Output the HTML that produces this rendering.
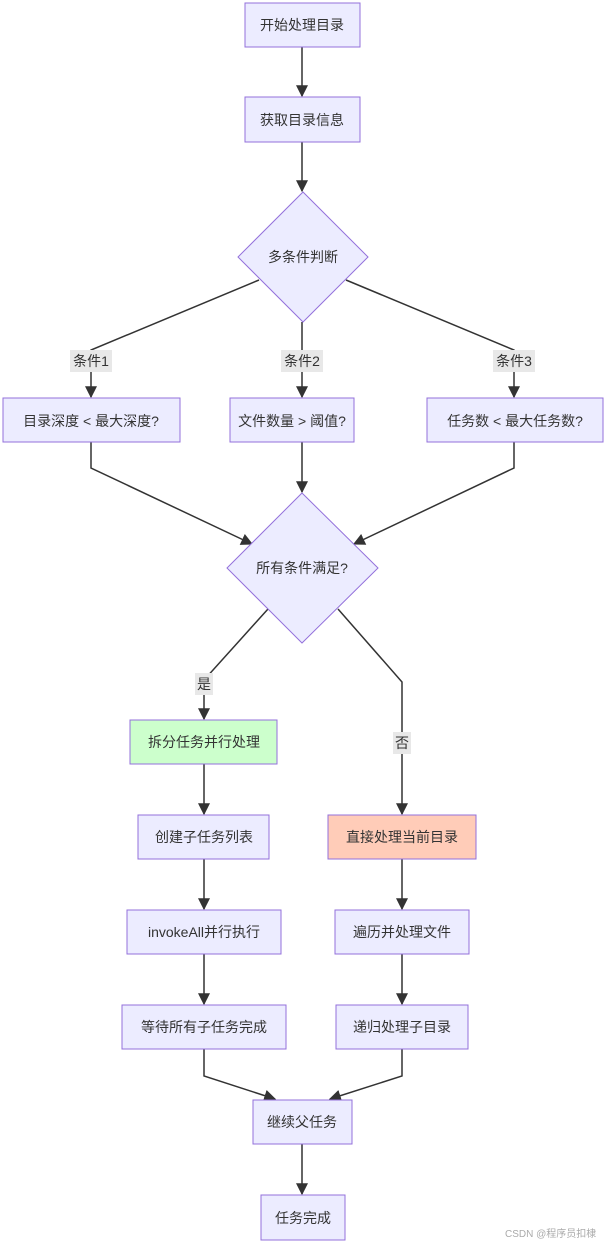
<!DOCTYPE html>
<html><head><meta charset="utf-8"><style>
html,body{margin:0;padding:0;background:#fff;}
svg text{font-family:"Liberation Sans","Noto Sans CJK SC",sans-serif;font-size:14px;fill:#333;}
</style></head><body>
<svg width="611" height="1244" viewBox="0 0 611 1244" xmlns="http://www.w3.org/2000/svg">
<defs><marker id="a" viewBox="0 0 10 10" refX="9" refY="5" markerWidth="8" markerHeight="8" orient="auto"><path d="M0,0L10,5L0,10z" fill="#333"/></marker></defs>
<g fill="none" stroke="#333" stroke-width="1.5">
<line x1="302" y1="47" x2="302" y2="96" marker-end="url(#a)"/>
<line x1="302" y1="142" x2="302" y2="191" marker-end="url(#a)"/>
<polyline points="259,280 91,350 91,397" marker-end="url(#a)"/>
<line x1="302" y1="322" x2="302" y2="397" marker-end="url(#a)"/>
<polyline points="346,280 514,350 514,397" marker-end="url(#a)"/>
<polyline points="91,442 91,468 252,544" marker-end="url(#a)"/>
<line x1="302" y1="442" x2="302" y2="492" marker-end="url(#a)"/>
<polyline points="514,442 514,468 354,544" marker-end="url(#a)"/>
<polyline points="268,609 204,680 204,719" marker-end="url(#a)"/>
<polyline points="338,609 402,682 402,814" marker-end="url(#a)"/>
<line x1="204" y1="764" x2="204" y2="814" marker-end="url(#a)"/>
<line x1="204" y1="859" x2="204" y2="909" marker-end="url(#a)"/>
<line x1="204" y1="954" x2="204" y2="1004" marker-end="url(#a)"/>
<line x1="402" y1="859" x2="402" y2="909" marker-end="url(#a)"/>
<line x1="402" y1="954" x2="402" y2="1004" marker-end="url(#a)"/>
<polyline points="204,1049 204,1076 275,1099" marker-end="url(#a)"/>
<polyline points="402,1049 402,1076 330,1099" marker-end="url(#a)"/>
<line x1="302" y1="1144" x2="302" y2="1194" marker-end="url(#a)"/>
</g>
<g fill="#e8e8e8">
<rect x="70" y="350" width="42" height="22"/>
<rect x="281" y="350" width="42" height="22"/>
<rect x="493" y="350" width="42" height="22"/>
<rect x="195" y="673" width="18" height="22"/>
<rect x="393" y="732" width="18" height="22"/>
</g>
<g stroke="#9370db" stroke-width="1" fill="#ececff">
<rect x="245" y="3" width="115" height="44"/>
<rect x="245" y="97" width="115" height="45"/>
<polygon points="303,192 368,257 303,322 238,257"/>
<rect x="3" y="398" width="177" height="44"/>
<rect x="230" y="398" width="124" height="44"/>
<rect x="427" y="398" width="176" height="44"/>
<polygon points="302,493 378,568 302,643 227,568"/>
<rect x="130" y="720" width="147" height="44" fill="#ccffcc"/>
<rect x="138" y="815" width="131" height="44"/>
<rect x="328" y="815" width="148" height="44" fill="#ffccb8"/>
<rect x="127" y="910" width="154" height="44"/>
<rect x="335" y="910" width="134" height="44"/>
<rect x="122" y="1005" width="164" height="44"/>
<rect x="336" y="1005" width="132" height="44"/>
<rect x="253" y="1100" width="99" height="44"/>
<rect x="261" y="1195" width="84" height="45"/>
</g>
<g text-anchor="middle">
<text x="302" y="30">开始处理目录</text>
<text x="302" y="125">获取目录信息</text>
<text x="303" y="262">多条件判断</text>
<text x="91" y="366">条件1</text>
<text x="302" y="366">条件2</text>
<text x="514" y="366">条件3</text>
<text x="91" y="426">目录深度 &lt; 最大深度?</text>
<text x="292" y="426">文件数量 &gt; 阈值?</text>
<text x="515" y="426">任务数 &lt; 最大任务数?</text>
<text x="302" y="573">所有条件满足?</text>
<text x="204" y="689">是</text>
<text x="402" y="748">否</text>
<text x="204" y="747">拆分任务并行处理</text>
<text x="204" y="842">创建子任务列表</text>
<text x="402" y="842">直接处理当前目录</text>
<text x="204" y="937">invokeAll并行执行</text>
<text x="402" y="937">遍历并处理文件</text>
<text x="204" y="1032">等待所有子任务完成</text>
<text x="402" y="1032">递归处理子目录</text>
<text x="302" y="1127">继续父任务</text>
<text x="303" y="1223">任务完成</text>
</g>
<text x="505" y="1237" style="font-size:10px;fill:#aaa">CSDN @程序员扣棣</text>
</svg>
</body></html>
